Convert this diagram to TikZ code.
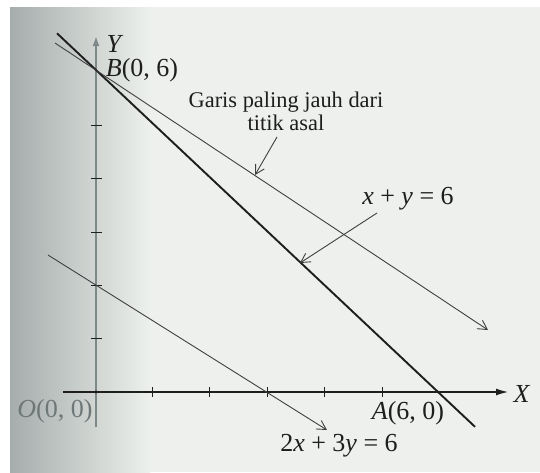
\documentclass[tikz,border=0pt]{standalone}
\usepackage{fontspec}
\setmainfont{Liberation Serif}
\usetikzlibrary{arrows.meta}
\definecolor{paper}{HTML}{EDF0EC}
\definecolor{shadow}{HTML}{A5ADAC}
\definecolor{ink}{HTML}{1E1E1E}
\definecolor{axisgray}{HTML}{7D8888}
\definecolor{fadedink}{HTML}{6E7777}
\newcommand\vv[1]{\textit{#1}}
\begin{document}
\begin{tikzpicture}[x=0.5pt,y=-0.5pt,
  thinline/.style={draw=ink!85, line width=0.45pt},
  thickline/.style={draw=ink, line width=0.95pt},
  barb/.style={-{Straight Barb[length=4.5pt,width=5pt]}},
  lbl/.style={font=\fontsize{13}{15}\selectfont, text=ink, inner sep=0pt},
  txt/.style={font=\fontsize{11.2}{11.6}\selectfont, text=ink, align=center, inner sep=0pt},
  tickmark/.style={draw=ink, line width=0.5pt}]
\useasboundingbox (0,0) rectangle (540,472);
\fill[white] (0,0) rectangle (540,472);
\fill[paper] (10,7) rectangle (540,472);
\shade[left color=shadow, right color=paper] (10,7) rectangle (150,472);

% key points
\coordinate (O) at (96,392);
\coordinate (B) at (96,70);
\coordinate (A) at (438,392);
\coordinate (C) at (96,285);
\coordinate (D) at (267,392);

% axes
\coordinate (ybot) at (96,427);
\coordinate (ytop) at (96,36);
\coordinate (xleft) at (63,392);
\coordinate (xright) at (508,392);
\draw[axisgray, line width=0.9pt, -{Latex[length=5pt,width=3.5pt]}] (ybot) -- (ytop);
\draw[ink, line width=0.6pt, -{Latex[length=6pt,width=3.5pt]}] (xleft) -- (xright);

% ticks
\foreach \x in {152,209,267,324,382}
  \draw[tickmark] (\x,387) -- (\x,397);
\foreach \y in {125,178,232,285,338}
  \draw[tickmark] (91,\y) -- (102,\y);
\fill[ink] (O) circle (1.6);
\fill[ink] (A) circle (1.4);

% lines
\coordinate (t1) at (57,33.3);
\coordinate (t2) at (475,426.8);
\draw[thickline] (t1) -- (t2);
\coordinate (f1) at (55,43);
\coordinate (f2) at (488,330);
\draw[thinline, barb] (f1) -- (f2);
\coordinate (g1) at (48,255);
\coordinate (g2) at (327,430);
\draw[thinline, barb] (g1) -- (g2);

% labels
\node[lbl] (ylab) at (115,44) {\vv{Y}};
\node[lbl] (xlab) at (522,394) {\vv{X}};
\node[lbl] (blab) at (142,70) {\vv{B}(0, 6)};
\node[lbl] (alab) at (408,413) {\vv{A}(6, 0)};
\node[lbl, text=fadedink] (olab) at (55,411) {\vv{O}(0, 0)};
\node[txt] (garis) at (286,111) {Garis paling jauh dari\\titik asal};
\node[lbl] (eq1) at (408,199) {\vv{x} + \vv{y} = 6};
\node[lbl] (eq2) at (339,446) {2\vv{x} + 3\vv{y} = 6};

% callouts
\coordinate (c1s) at (277,137);
\coordinate (c1e) at (255,175);
\draw[thinline, barb] (c1s) -- (c1e);
\coordinate (c2s) at (377,213);
\coordinate (c2e) at (300,263);
\draw[thinline, barb] (c2s) -- (c2e);
\end{tikzpicture}
\end{document}
